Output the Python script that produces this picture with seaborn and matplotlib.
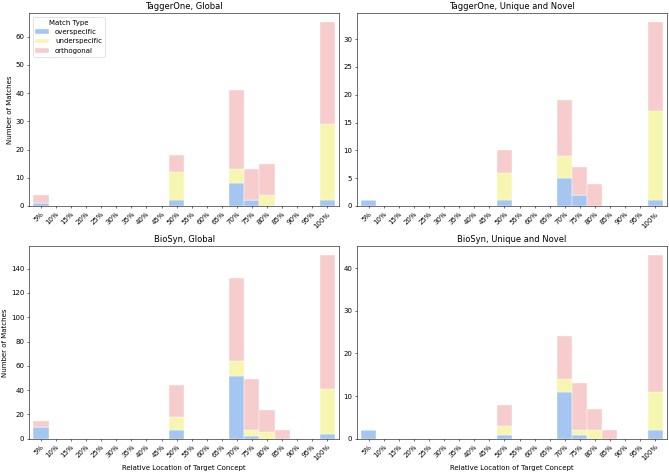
import numpy as np
import pandas as pd
import matplotlib
matplotlib.use('Agg')
import matplotlib.pyplot as plt
import seaborn as sns

# ========== data ==========
locations = [f'{p}%' for p in range(5, 105, 5)]
match_types = ['overspecific', 'underspecific', 'orthogonal']
colors = ['#a5c6f1', '#f7f6b0', '#f7cccc']

# counts per location bin (5% .. 100%)
tagger_global_over = [1, 0, 0, 0, 0, 0, 0, 0, 0, 2, 0, 0, 0, 8, 2, 0, 0, 0, 0, 2]
tagger_global_under = [0, 0, 0, 0, 0, 0, 0, 0, 0, 10, 0, 0, 0, 5, 0, 4, 0, 0, 0, 27]
tagger_global_orth = [3, 0, 0, 0, 0, 0, 0, 0, 0, 6, 0, 0, 0, 28, 11, 11, 0, 0, 0, 36]

tagger_novel_over = [1, 0, 0, 0, 0, 0, 0, 0, 0, 1, 0, 0, 0, 5, 2, 0, 0, 0, 0, 1]
tagger_novel_under = [0, 0, 0, 0, 0, 0, 0, 0, 0, 5, 0, 0, 0, 4, 0, 0, 0, 0, 0, 16]
tagger_novel_orth = [0, 0, 0, 0, 0, 0, 0, 0, 0, 4, 0, 0, 0, 10, 5, 4, 0, 0, 0, 16]

biosyn_global_over = [10, 0, 0, 0, 0, 0, 0, 0, 0, 7, 0, 0, 0, 52, 2, 0, 0, 0, 0, 4]
biosyn_global_under = [0, 0, 0, 0, 0, 0, 0, 0, 0, 11, 0, 0, 0, 12, 5, 6, 0, 0, 0, 37]
biosyn_global_orth = [5, 0, 0, 0, 0, 0, 0, 0, 0, 26, 0, 0, 0, 68, 42, 18, 7, 0, 0, 110]

biosyn_novel_over = [2, 0, 0, 0, 0, 0, 0, 0, 0, 1, 0, 0, 0, 11, 1, 0, 0, 0, 0, 2]
biosyn_novel_under = [0, 0, 0, 0, 0, 0, 0, 0, 0, 2, 0, 0, 0, 3, 1, 2, 0, 0, 0, 9]
biosyn_novel_orth = [0, 0, 0, 0, 0, 0, 0, 0, 0, 5, 0, 0, 0, 10, 11, 5, 2, 0, 0, 32]

panels = [
    ('TaggerOne, Global', [tagger_global_over, tagger_global_under, tagger_global_orth]),
    ('TaggerOne, Unique and Novel', [tagger_novel_over, tagger_novel_under, tagger_novel_orth]),
    ('BioSyn, Global', [biosyn_global_over, biosyn_global_under, biosyn_global_orth]),
    ('BioSyn, Unique and Novel', [biosyn_novel_over, biosyn_novel_under, biosyn_novel_orth]),
]


def to_long(series):
    rows = []
    for mt, vals in zip(match_types, series):
        for loc, v in zip(locations, vals):
            rows.append({'Relative Location': loc, 'Match Type': mt, 'count': v})
    return pd.DataFrame(rows)


# seaborn stacks the first hue level on top, so feed the order reversed
stack_order = match_types[::-1]
stack_colors = colors[::-1]

# ========== plot ==========
fig, axes = plt.subplots(2, 2, figsize=(13.38, 9.46), dpi=50)

for i, (ax, (title, series)) in enumerate(zip(axes.flat, panels)):
    df = to_long(series)
    sns.histplot(data=df, x='Relative Location', hue='Match Type', weights='count',
                 hue_order=stack_order, palette=stack_colors, multiple='stack',
                 discrete=True, shrink=1, alpha=1, linewidth=0.6, edgecolor='white',
                 legend=(i == 0), ax=ax)
    ax.set_title(title, fontsize=12)
    ax.set_xlim(-0.78, 19.78)
    ax.set_xticks(range(len(locations)))
    ax.set_xticklabels(locations, rotation=45, ha='right', rotation_mode='anchor')
    ax.set_ylabel('Number of Matches' if i % 2 == 0 else '')
    ax.set_xlabel('Relative Location of Target Concept' if i >= 2 else '')
    if i == 0:
        old = ax.get_legend()
        handles = list(old.legend_handles)[::-1]
        labels = [t.get_text() for t in old.get_texts()][::-1]
        old.remove()
        ax.legend(handles, labels, title='Match Type', loc='upper left')

plt.tight_layout(pad=0.3, w_pad=0.6, h_pad=0.8)
plt.savefig('out.png', dpi=50)
